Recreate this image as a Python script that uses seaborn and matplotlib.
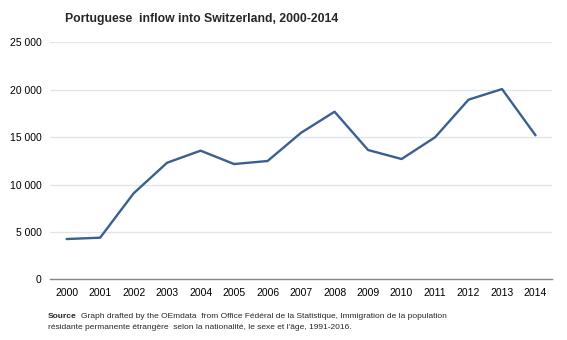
import matplotlib
matplotlib.use("Agg")
import matplotlib.pyplot as plt
import matplotlib.ticker as mticker
import seaborn as sns
import pandas as pd

years = ["2000", "2001", "2002", "2003", "2004", "2005", "2006", "2007",
         "2008", "2009", "2010", "2011", "2012", "2013", "2014"]
inflow = [4250, 4390, 9070, 12300, 13570, 12160, 12480, 15460,
          17680, 13640, 12690, 14980, 18950, 20070, 15190]
y_ticks = [0, 5000, 10000, 15000, 20000, 25000]

sns.set_theme(style="white")
plt.rcParams['font.family'] = ['Liberation Sans', 'DejaVu Sans']

df = pd.DataFrame({"year": years, "inflow": inflow})
df["pos"] = range(len(years))

fig = plt.figure(figsize=(5.67, 3.4), dpi=100)
ax = fig.add_axes([0.088, 0.1785, 0.886, 0.697])

sns.lineplot(data=df, x="pos", y="inflow", ax=ax, color="#3a5f90", linewidth=1.7)

ax.set_xlim(-0.5, len(years) - 0.5)
ax.set_ylim(0, 25000)
ax.set_xticks(range(len(years)))
ax.set_xticklabels(years)
ax.set_yticks(y_ticks)
ax.yaxis.set_major_formatter(mticker.FuncFormatter(lambda v, p: f"{int(v):,}".replace(",", " ")))
ax.grid(axis="y", color="#dce6f0", linewidth=1)
ax.set_axisbelow(True)
for s in ["top", "right", "left"]:
    ax.spines[s].set_visible(False)
ax.spines["bottom"].set_color("#888888")
ax.spines["bottom"].set_linewidth(1)
ax.tick_params(axis="both", length=0, labelsize=7.5, colors="black")
ax.tick_params(axis="x", pad=6)
ax.tick_params(axis="y", pad=6)
ax.set_xlabel("")
ax.set_ylabel("")

fig.text(0.115, 0.945, "Portuguese  inflow into Switzerland, 2000-2014",
         fontsize=8.8, fontweight="bold", ha="left", va="center")

fig.text(0.085, 0.07, "Source", fontsize=6, fontweight="bold", ha="left", va="center")
fig.text(0.142, 0.07, "Graph drafted by the OEmdata  from Office Fédéral de la Statistique, Immigration de la population",
         fontsize=6, ha="left", va="center")
fig.text(0.085, 0.038, "résidante permanente étrangère  selon la nationalité, le sexe et l'âge, 1991-2016.",
         fontsize=6, ha="left", va="center")

fig.savefig("out.png", dpi=100)
